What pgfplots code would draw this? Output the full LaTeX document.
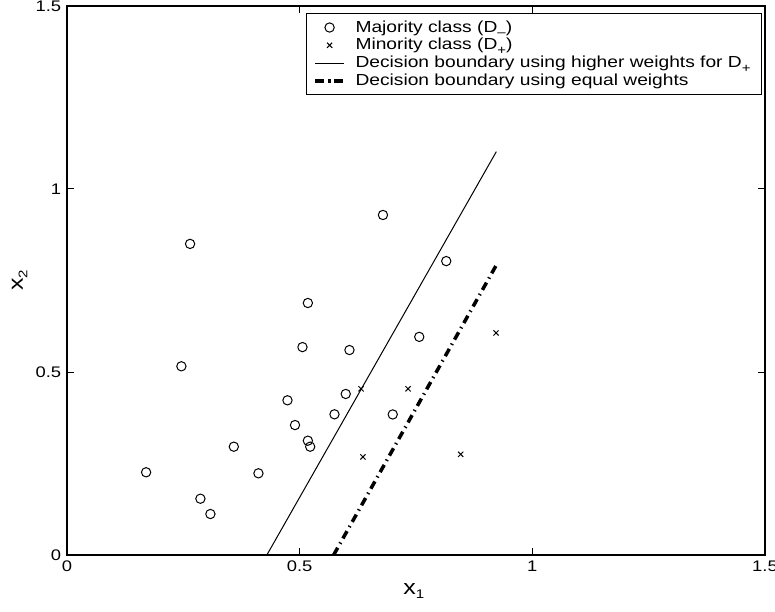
\documentclass[border=0pt]{standalone}
\usepackage{fontspec}
\setmainfont{Liberation Sans}[FakeStretch=1.2]
\usepackage{pgfplots}
\pgfplotsset{compat=1.18}

\newcommand{\lsub}[1]{\raisebox{-2.7pt}{\fontsize{7.5}{8}\selectfont #1}}

\begin{document}
\begin{tikzpicture}
\begin{axis}[
    scale only axis,
    width=418.8pt, height=329.4pt,
    xmin=0, xmax=1.5, ymin=0, ymax=1.5,
    xtick={0,0.5,1,1.5}, ytick={0,0.5,1,1.5},
    tick align=inside, major tick length=4.2pt,
    axis line style={line width=0.7pt},
    tick style={black, line width=0.6pt},
    /pgf/number format/assume math mode=true,
    tick label style={font=\fontsize{9.2}{10}\selectfont},
    xlabel={x\lsub{1}},
    ylabel={x\lsub{2}},
    label style={font=\fontsize{12.5}{14}\selectfont},
    xlabel style={at={(axis description cs:0.497,-0.066)}, anchor=center},
    ylabel style={at={(axis description cs:-0.068,0.5)}, anchor=center},
    legend cell align=left,
    legend style={
        at={(axis description cs:0.9957,0.9867)}, anchor=north east,
        draw=black, line width=0.6pt,
        font=\fontsize{9.6}{10}\selectfont,
        row sep=-1.8pt, inner xsep=4.5pt, inner ysep=2pt,
        /tikz/every odd column/.append style={column sep=4pt},
    },
]

    % majority class (D-)
    \addplot[only marks, mark=o, mark size=2.8pt, mark options={black, line width=0.6pt}]
    coordinates {
    (0.2645,0.850)(0.5176,0.6885)(0.506,0.568)(0.607,0.560)(0.2458,0.5156)
    (0.599,0.440)(0.4738,0.4227)(0.5748,0.3844)(0.490,0.355)(0.5176,0.3123)
    (0.5226,0.2959)(0.3585,0.2959)(0.4114,0.2232)(0.170,0.226)(0.2867,0.1538)
    (0.3082,0.112)(0.679,0.929)(0.815,0.803)(0.757,0.596)(0.700,0.384)
    };
    \addlegendentry{Majority class (D\lsub{\textendash})}

    % minority class (D+)
    \addplot[only marks, mark=x, mark size=2.2pt, mark options={black, line width=0.6pt}]
    coordinates {
    (0.632,0.454)(0.733,0.454)(0.922,0.6066)(0.636,0.268)(0.846,0.275)
    };
    \addlegendentry{Minority class (D\lsub{+})}

    \addplot[black, line width=0.6pt]
    coordinates {(0.4295,0) (0.9226,1.102)};
    \addlegendentry{Decision boundary using higher weights for D\lsub{+}}

    \addplot[black, line width=2.1pt, dash pattern=on 5pt off 2.8pt on 0.8pt off 2.8pt]
    coordinates {(0.573,0) (0.9226,0.792)};
    \addlegendentry{Decision boundary using equal weights}

\end{axis}
\pgfresetboundingbox
\path[use as bounding box]
    ([shift={(-40.2pt,-33.6pt)}]current axis.south west)
    rectangle ([shift={(6pt,3.6pt)}]current axis.north east);
\end{tikzpicture}
\end{document}
